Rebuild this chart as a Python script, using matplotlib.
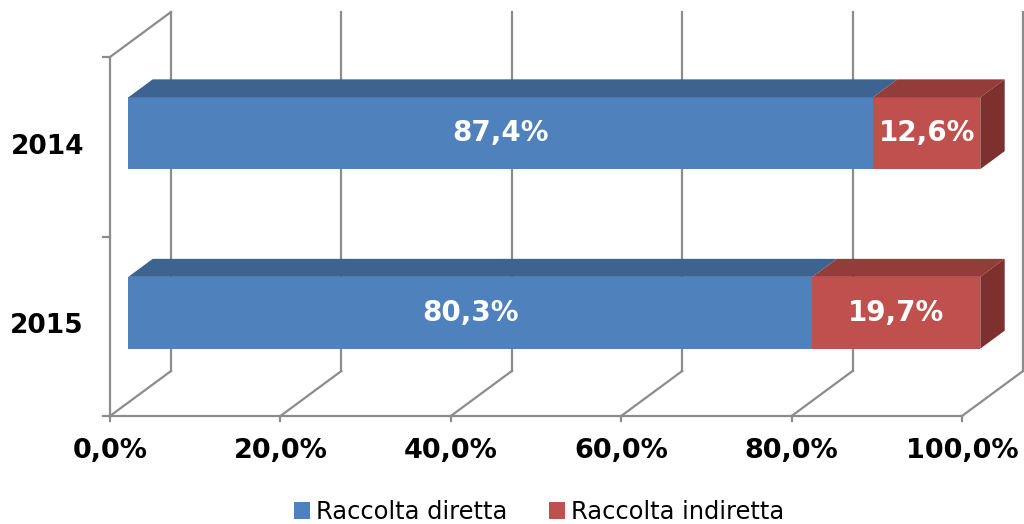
import matplotlib
matplotlib.use("Agg")
import matplotlib.pyplot as plt
from matplotlib.patches import Polygon, Patch

# ---- data ----
categories = ["2015", "2014"]
diretta = [80.3, 87.4]
indiretta = [19.7, 12.6]
series_names = ["Raccolta diretta", "Raccolta indiretta"]
xticks = [0, 20, 40, 60, 80, 100]

front_colors = ["#4F81BD", "#C0504D"]
top_colors = ["#3D6391", "#933C3A"]
side_colors = ["#37587F", "#7D302E"]

W, H = 1024, 524
fig = plt.figure(figsize=(W / 100, H / 100), dpi=100)
ax = fig.add_axes([0, 0, 1, 1])
ax.axis("off")

# scales: x in percent, y in category units
px_per_pct = 8.52
px_per_cat = 179.5
x0_px, floor_px = 110, 416
ax.set_xlim(-x0_px / px_per_pct, (W - x0_px) / px_per_pct)
ax.set_ylim(-0.5 - (H - floor_px) / px_per_cat, -0.5 + floor_px / px_per_cat)

DX = 61 / px_per_pct      # depth offset in x (percent units)
DY = 45 / px_per_cat      # depth offset in y (category units)
ymin, ymax = -0.5, len(categories) - 0.5

def P(x, y, d):
    return (x + d * DX, y + d * DY)

grid_c = "#8C8C8C"
lw = 1.6
# back wall verticals and floor diagonals
for t in xticks:
    b0 = P(t, ymin, 1); b1 = P(t, ymax, 1)
    ax.plot([b0[0], b1[0]], [b0[1], b1[1]], color=grid_c, lw=lw, zorder=1)
    f0 = P(t, ymin, 0)
    ax.plot([f0[0], b0[0]], [f0[1], b0[1]], color=grid_c, lw=lw, zorder=1)
    ax.plot([f0[0], f0[0]], [f0[1], f0[1] - 5 / px_per_cat], color=grid_c, lw=lw, zorder=1)
# front floor line
ax.plot([P(0, ymin, 0)[0], P(100, ymin, 0)[0]], [ymin, ymin], color=grid_c, lw=lw, zorder=1)
# left wall
ax.plot([0, 0], [ymin, ymax], color=grid_c, lw=lw, zorder=1)
tl = P(0, ymax, 1)
ax.plot([0, tl[0]], [ymax, tl[1]], color=grid_c, lw=lw, zorder=1)
for k in range(len(categories) + 1):
    yy = ymin + k
    ax.plot([-7 / px_per_pct, 0], [yy, yy], color=grid_c, lw=lw, zorder=1)

# bars
half = 0.2
d0, d1 = 0.3, 0.7
for i, cat in enumerate(categories):
    segs = [diretta[i], indiretta[i]]
    left = 0
    for j, v in enumerate(segs):
        right = left + v
        front = [P(left, i - half, d0), P(right, i - half, d0),
                 P(right, i + half, d0), P(left, i + half, d0)]
        ax.add_patch(Polygon(front, closed=True, facecolor=front_colors[j],
                             edgecolor="none", zorder=3))
        top = [P(left, i + half, d0), P(right, i + half, d0),
               P(right, i + half, d1), P(left, i + half, d1)]
        ax.add_patch(Polygon(top, closed=True, facecolor=top_colors[j],
                             edgecolor="none", zorder=3))
        if j == len(segs) - 1:
            side = [P(right, i - half, d0), P(right, i - half, d1),
                    P(right, i + half, d1), P(right, i + half, d0)]
            ax.add_patch(Polygon(side, closed=True, facecolor=side_colors[j],
                                 edgecolor="none", zorder=3))
        cx, cy = P((left + right) / 2, i, d0)
        ax.text(cx, cy, f"{v:.1f}%".replace(".", ","), color="white",
                fontsize=20, fontweight="bold", ha="center", va="center", zorder=4)
        left = right
    ax.text(-26 / px_per_pct, i, cat, fontsize=19, fontweight="bold",
            ha="right", va="center", color="black")

# x tick labels
for t in xticks:
    ax.text(t, ymin - 35 / px_per_cat, f"{t:.1f}%".replace(".", ","),
            fontsize=19.5, fontweight="bold", ha="center", va="center", color="black")

handles = [Patch(facecolor=c, edgecolor="none") for c in front_colors]
leg = fig.legend(handles, series_names, loc="center", bbox_to_anchor=(539 / W, 1 - 512 / H),
                 ncol=2, frameon=False, fontsize=17.4, handlelength=0.65, handleheight=0.65,
                 handletextpad=0.25, columnspacing=1.75, borderpad=0)

fig.savefig("out.png", dpi=100)
